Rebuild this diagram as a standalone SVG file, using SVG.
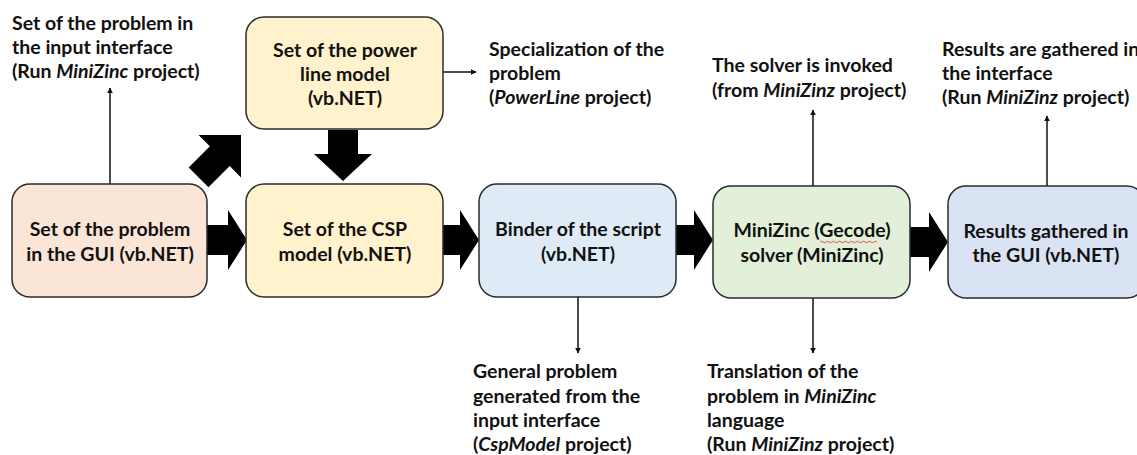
<svg xmlns="http://www.w3.org/2000/svg" width="1137" height="455" viewBox="0 0 1137 455">
<defs>
<style>
text{font-family:Lato,"Open Sans","Liberation Sans",sans-serif;font-weight:bold;font-size:19.5px;fill:#111;}
.c{text-anchor:middle;}
.i{font-style:italic;}
.box{stroke:#2b2b2b;stroke-width:1.5;}
.thin{stroke:#111;stroke-width:1.5;fill:none;marker-end:url(#ah);}
.fat{fill:#000;}
</style>
<marker id="ah" viewBox="0 0 10 10" refX="9" refY="5" markerWidth="6" markerHeight="6" markerUnits="userSpaceOnUse" orient="auto">
<path d="M0,0 L10,5 L0,10 z" fill="#111"/>
</marker>
</defs>
<rect width="1137" height="455" fill="#fff"/>

<g id="connectors">
<path class="fat" d="M207,225 H228 V210 L247,240 L228,270 V255 H207 Z"/>
<path class="fat" d="M443,225 H460 V210 L479,240 L460,270 V255 H443 Z"/>
<path class="fat" d="M676,225 H694 V210 L713,240 L694,270 V255 H676 Z"/>
<path class="fat" d="M910,227 H929 V212 L948,242 L929,272 V257 H910 Z"/>
<path class="fat" d="M328,130 H358 V154 H372 L343,181 L314,154 H328 Z"/>
<path class="fat" transform="translate(241,135) rotate(-45)" d="M-60,-14 H-30 V-30 L0,0 L-30,30 V14 H-60 Z"/>
<path class="thin" d="M110,184 V88"/>
<path class="thin" d="M443,72 H476"/>
<path class="thin" d="M813,186 V110"/>
<path class="thin" d="M1047,186 V116"/>
<path class="thin" d="M578,297 V353"/>
<path class="thin" d="M813,298 V353"/>
</g>

<g id="node-gui">
<rect class="box" x="12" y="184" width="195" height="113" rx="18" fill="#FBE5D6"/>
<text class="c" x="110" y="236">Set of the problem</text>
<text class="c" x="110" y="261">in the GUI (vb.NET)</text>
</g>

<g id="node-powerline">
<rect class="box" x="246" y="17" width="197" height="112" rx="18" fill="#FFF2CC"/>
<text class="c" x="345" y="57">Set of the power</text>
<text class="c" x="345" y="81">line model</text>
<text class="c" x="345" y="105">(vb.NET)</text>
</g>

<g id="node-csp">
<rect class="box" x="246" y="184" width="197" height="113" rx="18" fill="#FFF2CC"/>
<text class="c" x="345" y="236">Set of the CSP</text>
<text class="c" x="345" y="261">model (vb.NET)</text>
</g>

<g id="node-binder">
<rect class="box" x="479" y="184" width="197" height="113" rx="18" fill="#DEEBF7"/>
<text class="c" x="578" y="236">Binder of the script</text>
<text class="c" x="578" y="261">(vb.NET)</text>
</g>

<g id="node-solver">
<rect class="box" x="713" y="186" width="197" height="112" rx="18" fill="#E2F0D9"/>
<text class="c" x="812" y="237">MiniZinc (Gecode)</text>
<text class="c" x="812" y="262">solver (MiniZinc)</text>
<path d="M820,242 q1.5,-1.5 3,0 t3,0 t3,0 t3,0 t3,0 t3,0 t3,0 t3,0 t3,0 t3,0 t3,0 t3,0 t3,0 t3,0 t3,0 t3,0 t3,0 t3,0 t3,0" fill="none" stroke="#e03030" stroke-width="0.8"/>
</g>

<g id="node-results">
<rect class="box" x="948" y="186" width="197" height="112" rx="18" fill="#DAE3F3"/>
<text class="c" x="1046" y="238">Results gathered in</text>
<text class="c" x="1046" y="262">the GUI (vb.NET)</text>
</g>

<g id="label-input">
<text x="12" y="30">Set of the problem in</text>
<text x="12" y="54">the input interface</text>
<text x="12" y="78">(Run <tspan class="i">MiniZinc</tspan> project)</text>
</g>

<g id="label-specialization">
<text x="489" y="56">Specialization of the</text>
<text x="489" y="80">problem</text>
<text x="489" y="104">(<tspan class="i">PowerLine</tspan> project)</text>
</g>

<g id="label-solver">
<text x="712" y="72">The solver is invoked</text>
<text x="712" y="97">(from <tspan class="i">MiniZinz</tspan> project)</text>
</g>

<g id="label-results">
<text x="942" y="56">Results are gathered in</text>
<text x="942" y="80">the interface</text>
<text x="942" y="104">(Run <tspan class="i">MiniZinz</tspan> project)</text>
</g>

<g id="label-general">
<text x="473" y="378">General problem</text>
<text x="473" y="403">generated from the</text>
<text x="473" y="427">input interface</text>
<text x="473" y="451">(<tspan class="i">CspModel</tspan> project)</text>
</g>

<g id="label-translation">
<text x="707" y="378">Translation of the</text>
<text x="707" y="403">problem in <tspan class="i">MiniZinc</tspan></text>
<text x="707" y="427">language</text>
<text x="707" y="451">(Run <tspan class="i">MiniZinz</tspan> project)</text>
</g>
</svg>
